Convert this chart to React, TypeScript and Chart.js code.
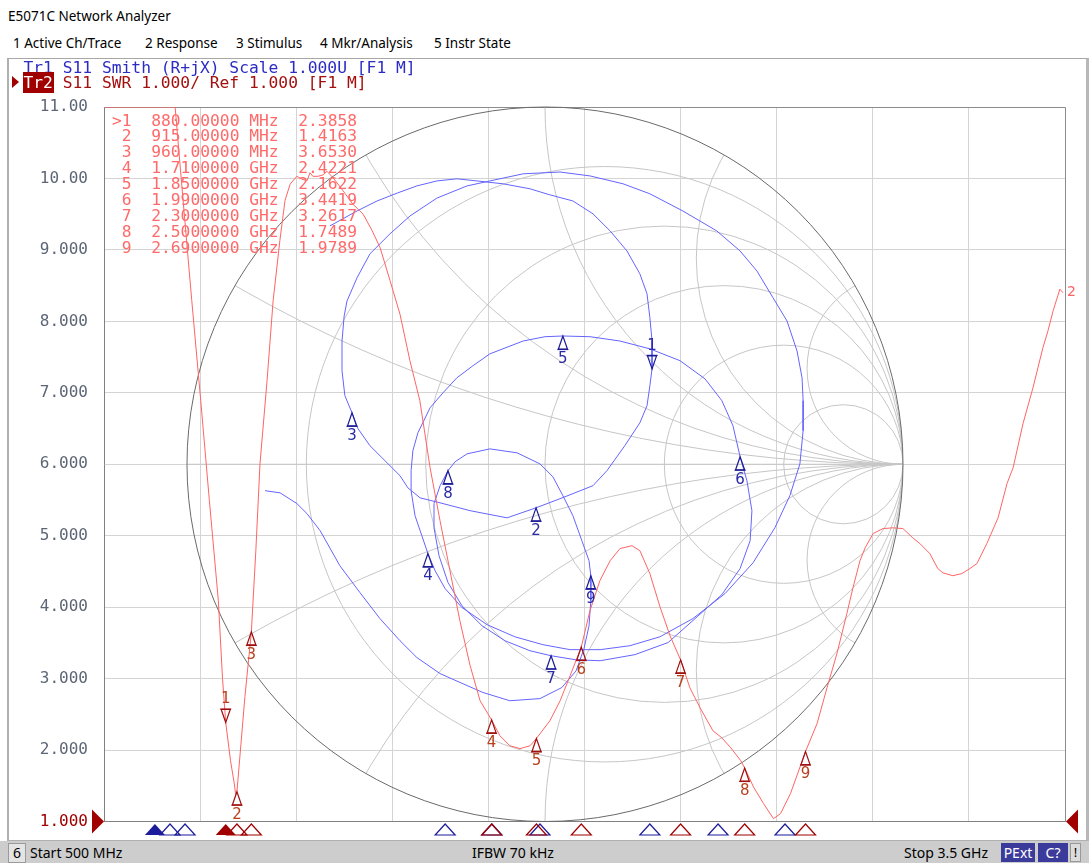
import React, { useEffect, useRef } from 'react';
import { Chart, registerables } from 'chart.js';

Chart.register(...registerables);

// ---------------- data ----------------
const startMHz = 500;
const stopMHz = 3500;
const swrMin = 1;
const swrMax = 11;
const refValue = 1;
const yTickLabels = ['1.000', '2.000', '3.000', '4.000', '5.000', '6.000', '7.000', '8.000', '9.000', '10.00', '11.00'];

// Tr2: S11 SWR vs frequency (MHz)
const swrFreqMHz = [
  500, 600, 700, 722, 747, 774, 802, 829, 857, 870,
  880, 895, 906, 911, 915, 925, 940, 960, 974, 987,
  1009, 1028, 1049, 1065, 1081, 1102, 1118, 1134, 1143, 1152,
  1168, 1184, 1196, 1215, 1246, 1277, 1309, 1337, 1362, 1393,
  1424, 1455, 1486, 1518, 1549, 1580, 1611, 1643, 1674, 1710,
  1736, 1767, 1799, 1830, 1850, 1892, 1924, 1955, 1990, 2017,
  2048, 2080, 2111, 2148, 2173, 2204, 2236, 2267, 2300, 2329,
  2361, 2401, 2429, 2457, 2488, 2500, 2528, 2559, 2590, 2612,
  2643, 2690, 2726, 2757, 2788, 2819, 2838, 2860, 2876, 2901,
  2932, 2963, 2994, 3025, 3047, 3078, 3103, 3119, 3150, 3178,
  3203, 3225, 3256, 3291, 3319, 3338, 3369, 3400, 3431, 3447,
  3463, 3484, 3494,
];
const swrValue = [
  11, 11, 11, 11, 9.69, 8.29, 6.89, 5.49, 4.09, 3.0,
  2.3858, 1.85, 1.55, 1.38, 1.4163, 1.95, 2.75, 3.653, 4.79, 6.01,
  7.17, 8.29, 9.13, 9.69, 9.92, 10.03, 9.99, 9.97, 10.08, 10.03,
  10.03, 10.05, 10.1, 10.01, 9.83, 9.64, 9.5, 9.27, 9.03, 8.57,
  8.1, 7.45, 6.89, 5.95, 5.21, 4.51, 3.81, 3.18, 2.69, 2.4221,
  2.2, 2.06, 2.02, 2.06, 2.1622, 2.41, 2.69, 3.04, 3.4419, 3.95,
  4.37, 4.65, 4.82, 4.86, 4.79, 4.47, 4.0, 3.6, 3.2617, 2.87,
  2.59, 2.27, 2.17, 2.03, 1.85, 1.7489, 1.48, 1.25, 1.04, 1.11,
  1.39, 1.9789, 2.37, 2.87, 3.35, 3.91, 4.27, 4.65, 4.83, 5.03,
  5.1, 5.11, 5.1, 4.97, 4.89, 4.75, 4.54, 4.48, 4.44, 4.47,
  4.54, 4.61, 4.89, 5.25, 5.73, 5.95, 6.57, 7.07, 7.63, 7.87,
  8.15, 8.45, 8.4,
];

// Tr1: S11 on Smith chart (reflection coefficient, real / imaginary), in sweep order
const smithRe = [
  -0.601, -0.525, -0.469, -0.413, -0.358, -0.302, -0.246, -0.19, -0.117, -0.042,
  0.014, 0.078, 0.134, 0.182, 0.229, 0.265, 0.285, 0.293, 0.299, 0.299,
  0.293, 0.285, 0.265, 0.223, 0.173, 0.134, 0.056, -0.025, -0.106, -0.209,
  -0.293, -0.349, -0.383, -0.405, -0.447, -0.489, -0.522, -0.539,
  -0.559, -0.567, -0.567, -0.561, -0.553, -0.525, -0.489, -0.433, -0.377, -0.302,
  -0.218, -0.154, -0.061, 0.042, 0.126, 0.218, 0.293, 0.385, 0.48, 0.545,
  0.592, 0.637, 0.676, 0.704, 0.718, 0.721, 0.721, 0.712, 0.684, 0.642,
  0.581, 0.503, 0.413, 0.321, 0.237, 0.154, 0.07, -0.006, -0.084, -0.162,
  -0.232, -0.279, -0.307, -0.327,
  -0.344, -0.363, -0.374, -0.374, -0.369, -0.355, -0.321, -0.285, -0.246, -0.201,
  -0.154, -0.061, 0.0, 0.05, 0.126, 0.209, 0.293, 0.377, 0.447, 0.494,
  0.525, 0.545,
  0.564, 0.578, 0.573, 0.545, 0.494, 0.425, 0.344, 0.251, 0.154, 0.084, 0.017,
  -0.042, -0.112, -0.176, -0.232, -0.271, -0.296, -0.31, -0.31, -0.293, -0.271,
  -0.251, -0.218, -0.154, -0.078, -0.014, 0.022, 0.05, 0.078, 0.103, 0.123, 0.128,
  0.128, 0.123, 0.109, 0.087, 0.047, -0.014, -0.098, -0.173, -0.237, -0.293,
  -0.358, -0.405, -0.461, -0.517, -0.573, -0.628, -0.665, -0.693, -0.74, -0.782,
];
const smithIm = [
  0.667, 0.709, 0.737, 0.759, 0.779, 0.793, 0.799, 0.793, 0.785, 0.771,
  0.754, 0.737, 0.701, 0.653, 0.597, 0.533, 0.477, 0.41, 0.345, 0.267,
  0.22, 0.164, 0.116, 0.052, -0.018, -0.06, -0.091, -0.122, -0.15, -0.13,
  -0.108, -0.094, -0.066, -0.032, 0.01, 0.052, 0.099, 0.144,
  0.192, 0.262, 0.345, 0.415, 0.457, 0.522, 0.589, 0.645, 0.695, 0.745,
  0.779, 0.793, 0.813, 0.818, 0.807, 0.785, 0.757, 0.709, 0.653, 0.597,
  0.541, 0.466, 0.401, 0.317, 0.242, 0.178, 0.094, 0.001, -0.088, -0.178,
  -0.276, -0.362, -0.432, -0.483, -0.508, -0.519, -0.519, -0.505, -0.483, -0.449,
  -0.401, -0.348, -0.298, -0.25,
  -0.2, -0.144, -0.074, -0.018, 0.038, 0.088, 0.158, 0.2, 0.242, 0.276,
  0.309, 0.345, 0.357, 0.359, 0.357, 0.345, 0.323, 0.29, 0.239, 0.178,
  0.108, 0.021,
  -0.046, -0.13, -0.214, -0.292, -0.365, -0.427, -0.499, -0.533, -0.55, -0.547, -0.536,
  -0.522, -0.494, -0.452, -0.396, -0.331, -0.256, -0.178, -0.11, -0.06, -0.018,
  0.007, 0.029, 0.043, 0.032, 0.001, -0.035, -0.088, -0.144, -0.214, -0.27, -0.312,
  -0.382, -0.452, -0.516, -0.578, -0.625, -0.656, -0.662, -0.639, -0.611, -0.586,
  -0.541, -0.494, -0.432, -0.359, -0.284, -0.186, -0.138, -0.11, -0.08, -0.074,
];

// markers
const markerFreqMHz = [880, 915, 960, 1710, 1850, 1990, 2300, 2500, 2690];
const markerSwr = [2.3858, 1.4163, 3.653, 2.4221, 2.1622, 3.4419, 3.2617, 1.7489, 1.9789];
const markerSmithRe = [0.299, -0.025, -0.539, -0.327, 0.05, 0.545, 0.017, -0.271, 0.128];
const markerSmithIm = [0.267, -0.122, 0.144, -0.25, 0.359, 0.021, -0.536, -0.018, -0.312];
const tr1StimulusMHz = [659, 706, 753, 1565, 1711, 1861, 2204, 2417, 2626];

// Smith grid values
const smithResistances = [0.2, 0.5, 1, 2, 5];
const smithReactances = [0.268, 0.577, 1, 1.732, 3.732];

const menuItems = ['1 Active Ch/Trace', '2 Response', '3 Stimulus', '4 Mkr/Analysis', '5 Instr State'];
const menuX = [13, 145, 236, 320, 434];

// ---------------- styles ----------------
const MONO = '"DejaVu Sans Mono", monospace';
const SANS = '"Noto Sans", "Open Sans", sans-serif';
const SWR_COLOR = '#ff6464';
const SMITH_COLOR = '#6464ff';

const markerRows = markerFreqMHz.map((f, i) => {
  const num = (i === 0 ? '>' : ' ') + String(i + 1);
  const freq = f < 1000 ? f.toFixed(5) + ' MHz' : (f / 1000).toFixed(7) + ' GHz';
  return `${num}  ${freq}  ${markerSwr[i].toFixed(4)}`;
});

const smithGridPlugin = {
  id: 'smithGrid',
  beforeDatasetsDraw(chart: any) {
    const ctx = chart.ctx;
    const xs = chart.scales.x2;
    const ys = chart.scales.y2;
    const px = (v: number) => xs.getPixelForValue(v);
    const py = (v: number) => ys.getPixelForValue(v);
    const ca = chart.chartArea;
    // plot frame top/right
    ctx.save();
    ctx.strokeStyle = '#8c8c8c';
    ctx.lineWidth = 1;
    ctx.beginPath();
    ctx.moveTo(ca.left, ca.top + 0.5);
    ctx.lineTo(ca.right + 0.5, ca.top + 0.5);
    ctx.lineTo(ca.right + 0.5, ca.bottom);
    ctx.stroke();
    ctx.restore();

    const cx = px(0);
    const cy = py(0);
    const Rx = px(1) - cx;
    const Ry = cy - py(1);
    ctx.save();
    ctx.beginPath();
    ctx.ellipse(cx, cy, Rx, Ry, 0, 0, Math.PI * 2);
    ctx.clip();
    ctx.strokeStyle = '#c6c6c6';
    ctx.lineWidth = 1;
    ctx.beginPath();
    ctx.moveTo(px(-1), cy);
    ctx.lineTo(px(1), cy);
    ctx.stroke();
    smithResistances.forEach((r) => {
      const c = r / (1 + r);
      const rad = 1 / (1 + r);
      ctx.beginPath();
      ctx.ellipse(px(c), cy, px(c + rad) - px(c), py(0) - py(rad), 0, 0, Math.PI * 2);
      ctx.stroke();
    });
    smithReactances.forEach((x) => {
      [1, -1].forEach((s) => {
        const rad = 1 / x;
        ctx.beginPath();
        ctx.ellipse(px(1), py(s / x), px(1 + rad) - px(1), py(0) - py(rad), 0, 0, Math.PI * 2);
        ctx.stroke();
      });
    });
    ctx.restore();
    ctx.save();
    ctx.strokeStyle = '#6a6a6a';
    ctx.lineWidth = 1;
    ctx.beginPath();
    ctx.ellipse(cx, cy, Rx, Ry, 0, 0, Math.PI * 2);
    ctx.stroke();
    ctx.restore();
  },
};

const markersPlugin = {
  id: 'markers',
  afterDatasetsDraw(chart: any) {
    const ctx = chart.ctx;
    const { x, y, x2, y2 } = chart.scales;
    ctx.save();
    ctx.lineWidth = 1.2;
    ctx.font = '15px "DejaVu Sans", sans-serif';
    ctx.textAlign = 'center';
    ctx.textBaseline = 'middle';
    const draw = (px: number, py: number, n: number, active: boolean, stroke: string, text: string) => {
      ctx.strokeStyle = stroke;
      ctx.fillStyle = text;
      ctx.beginPath();
      const d = active ? -1 : 1;
      ctx.moveTo(px, py);
      ctx.lineTo(px - 4.5, py + d * 13);
      ctx.lineTo(px + 4.5, py + d * 13);
      ctx.closePath();
      ctx.stroke();
      ctx.beginPath();
      ctx.moveTo(px - 5.5, py + d * 13.5);
      ctx.lineTo(px + 5.5, py + d * 13.5);
      ctx.stroke();
      ctx.fillText(String(n), px, py + d * 23);
    };
    markerSmithRe.forEach((re, i) =>
      draw(x2.getPixelForValue(re), y2.getPixelForValue(markerSmithIm[i]), i + 1, i === 0, '#1c1c96', '#2a2aa6')
    );
    markerFreqMHz.forEach((f, i) =>
      draw(x.getPixelForValue(f), y.getPixelForValue(markerSwr[i]), i + 1, i === 0, '#a01010', '#b8401c')
    );
    // trace number at end of Tr2
    const last = swrFreqMHz.length - 1;
    ctx.fillStyle = SWR_COLOR;
    ctx.textAlign = 'left';
    ctx.font = '14px "DejaVu Sans", sans-serif';
    ctx.fillText('2', x.getPixelForValue(swrFreqMHz[last]) + 4, y.getPixelForValue(swrValue[last]));
    ctx.restore();
  },
  afterDraw(chart: any) {
    const ctx = chart.ctx;
    const { x, y } = chart.scales;
    const ca = chart.chartArea;
    ctx.save();
    ctx.lineWidth = 1.2;
    const stim = (px: number, color: string, filled: boolean) => {
      const top = ca.bottom + 2.5;
      ctx.beginPath();
      ctx.moveTo(px, top);
      ctx.lineTo(px - 10, top + 11);
      ctx.lineTo(px + 10, top + 11);
      ctx.closePath();
      if (filled) {
        ctx.fillStyle = color;
        ctx.fill();
      } else {
        ctx.strokeStyle = color;
        ctx.stroke();
      }
    };
    tr1StimulusMHz.forEach((f, i) => stim(x.getPixelForValue(f), '#1c1c9c', i === 0));
    markerFreqMHz.forEach((f, i) => stim(x.getPixelForValue(f), '#a00000', i === 0));
    // reference level arrows
    const ry = y.getPixelForValue(refValue);
    ctx.fillStyle = '#a00000';
    ctx.beginPath();
    ctx.moveTo(ca.left, ry);
    ctx.lineTo(ca.left - 12, ry - 12);
    ctx.lineTo(ca.left - 12, ry + 12);
    ctx.closePath();
    ctx.fill();
    ctx.beginPath();
    ctx.moveTo(ca.right + 1, ry);
    ctx.lineTo(ca.right + 13, ry - 12);
    ctx.lineTo(ca.right + 13, ry + 12);
    ctx.closePath();
    ctx.fill();
    ctx.restore();
  },
};

function ChartCanvas() {
  const ref = useRef<HTMLCanvasElement | null>(null);
  useEffect(() => {
    if (!ref.current) return;
    const chart = new Chart(ref.current, {
      type: 'scatter',
      data: {
        datasets: [
          {
            label: 'Tr2 S11 SWR',
            data: swrFreqMHz.map((f, i) => ({ x: f, y: swrValue[i] })),
            xAxisID: 'x',
            yAxisID: 'y',
            showLine: true,
            borderColor: SWR_COLOR,
            backgroundColor: SWR_COLOR,
            borderWidth: 1,
            pointRadius: 0,
            tension: 0,
          },
          {
            label: 'Tr1 S11 Smith',
            data: smithRe.map((re, i) => ({ x: re, y: smithIm[i] })),
            xAxisID: 'x2',
            yAxisID: 'y2',
            showLine: true,
            borderColor: SMITH_COLOR,
            backgroundColor: SMITH_COLOR,
            borderWidth: 1,
            pointRadius: 0,
            tension: 0,
            clip: false,
          },
        ],
      },
      options: {
        responsive: false,
        devicePixelRatio: 1,
        animation: false,
        events: [],
        layout: { padding: { top: 107, left: 0, right: 24, bottom: 41.5 } },
        plugins: { legend: { display: false }, tooltip: { enabled: false }, title: { display: false } },
        scales: {
          x: {
            type: 'linear',
            position: 'bottom',
            min: startMHz,
            max: stopMHz,
            ticks: { display: false, stepSize: 300 },
            grid: { color: '#d4d4d4', drawTicks: false },
            border: { color: '#808080' },
            afterFit: (s: any) => {
              s.height = 0;
            },
          },
          y: {
            type: 'linear',
            position: 'left',
            min: swrMin,
            max: swrMax,
            ticks: {
              stepSize: 1,
              padding: 16,
              font: { family: MONO, size: 16 },
              color: (c: any) => (c.tick && c.tick.value === refValue ? '#a00000' : '#5d6676'),
              callback: (_v: any, i: number) => yTickLabels[i],
            },
            grid: { color: '#d4d4d4', drawTicks: false },
            border: { color: '#808080' },
            afterFit: (s: any) => {
              s.width = 104;
            },
          },
          x2: { type: 'linear', display: false, min: -1.2318, max: 1.4525 },
          y2: { type: 'linear', display: false, min: -1, max: 1 },
        },
      } as any,
      plugins: [smithGridPlugin, markersPlugin],
    });
    return () => chart.destroy();
  }, []);
  return <canvas ref={ref} width={1089} height={863} style={{ position: 'absolute', left: 0, top: 0 }} />;
}

export default function App() {
  const abs = (o: React.CSSProperties): React.CSSProperties => ({ position: 'absolute', ...o });
  return (
    <div
      style={{
        position: 'fixed',
        left: 0,
        top: 0,
        width: 1089,
        height: 863,
        background: '#ffffff',
        overflow: 'hidden',
        fontFamily: SANS,
      }}
    >
      <div style={abs({ left: 8, top: 7, fontSize: 13.5, lineHeight: '18px', color: '#000' })}>E5071C Network Analyzer</div>
      {menuItems.map((m, i) => (
        <div key={m} style={abs({ left: menuX[i], top: 33, fontSize: 13.5, lineHeight: '20px', color: '#000', whiteSpace: 'pre' })}>
          {m}
        </div>
      ))}
      <div
        style={abs({
          left: 7,
          top: 58,
          width: 1077,
          height: 781,
          borderTop: '1px solid #a8a8a8',
          borderLeft: '2px solid #b0b0b0',
          borderRight: '3px solid #b8b8b8',
          borderBottom: '1px solid #b0b0b0',
        })}
      />
      <ChartCanvas />
      <div style={abs({ left: 23.5, top: 60, fontFamily: MONO, fontSize: 16.3, lineHeight: '16px', color: '#2c2cc4', whiteSpace: 'pre' })}>
        Tr1 S11 Smith (R+jX) Scale 1.000U [F1 M]
      </div>
      <div
        style={abs({
          left: 12,
          top: 76,
          width: 0,
          height: 0,
          borderTop: '6px solid transparent',
          borderBottom: '6px solid transparent',
          borderLeft: '7px solid #a00000',
        })}
      />
      <div style={abs({ left: 23.5, top: 75, fontFamily: MONO, fontSize: 16.3, lineHeight: '15px', whiteSpace: 'pre' })}>
        <span style={{ background: '#a00000', color: '#ffffff', boxShadow: '0 0 0 1px #a00000' }}>Tr2</span>
        <span style={{ color: '#a31010' }}> S11 SWR 1.000/ Ref 1.000 [F1 M]</span>
      </div>
      <div style={abs({ left: 112, top: 112.5, fontFamily: MONO, fontSize: 16.3, lineHeight: '15.9px', color: '#ff6a6a', whiteSpace: 'pre' })}>
        {markerRows.map((r) => (
          <div key={r}>{r}</div>
        ))}
      </div>
      {/* status bar */}
      <div style={abs({ left: 0, top: 841, width: 1089, height: 22, background: '#cdcdcd' })} />
      <div
        style={abs({
          left: 8,
          top: 843,
          width: 16,
          height: 18,
          background: '#e4e4e4',
          border: '1px solid #9a9a9a',
          fontSize: 14,
          lineHeight: '18px',
          textAlign: 'center',
        })}
      >
        6
      </div>
      <div style={abs({ left: 30, top: 842, fontSize: 14, lineHeight: '21px', color: '#000', whiteSpace: 'pre' })}>Start 500 MHz</div>
      <div style={abs({ left: 472, top: 842, fontSize: 14, lineHeight: '21px', color: '#000', whiteSpace: 'pre' })}>IFBW 70 kHz</div>
      <div style={abs({ left: 904, top: 842, fontSize: 14, lineHeight: '21px', color: '#000', whiteSpace: 'pre' })}>Stop 3.5 GHz</div>
      <div
        style={abs({ left: 1001, top: 843, width: 34, height: 19, background: '#3b3b9b', color: '#fff', fontSize: 14, lineHeight: '19px', textAlign: 'center' })}
      >
        PExt
      </div>
      <div
        style={abs({ left: 1038, top: 843, width: 30, height: 19, background: '#3b3b9b', color: '#fff', fontSize: 14, lineHeight: '19px', textAlign: 'center' })}
      >
        C?
      </div>
      <div
        style={abs({
          left: 1070,
          top: 843,
          width: 9,
          height: 17,
          background: '#dcdcdc',
          border: '1px solid #999',
          color: '#000',
          fontSize: 13,
          lineHeight: '17px',
          textAlign: 'center',
        })}
      >
        !
      </div>
    </div>
  );
}
